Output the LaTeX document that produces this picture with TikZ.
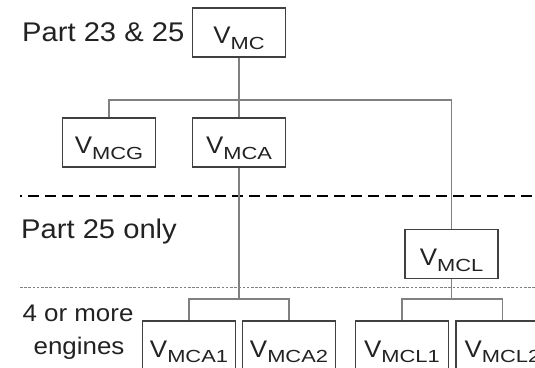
\documentclass[tikz,border=0pt]{standalone}
\usepackage{fontspec}
\setmainfont{Liberation Sans}[FakeStretch=1.08]
\newfontfamily\subfont{Liberation Sans}[FakeStretch=1.25]
\newcommand{\vname}[1]{V\raisebox{-5.5pt}{\fontsize{17.5}{17.5}\subfont #1}}
\definecolor{boxline}{HTML}{404040}
\definecolor{linkline}{HTML}{808080}
\definecolor{inktext}{HTML}{222222}
\tikzset{
  vbox/.style={draw=boxline,line width=1.4pt,minimum width=93pt,minimum height=49pt,
    inner sep=0pt,text height=23pt,text depth=0pt,font=\fontsize{24}{24}\selectfont,text=inktext},
  link/.style={draw=linkline,line width=1.3pt},
  parttext/.style={anchor=base west,inner sep=0pt,font=\fontsize{27}{27}\selectfont,text=inktext},
  enginetext/.style={anchor=base,inner sep=0pt,font=\fontsize{24}{24}\selectfont,text=inktext}
}
\begin{document}
\begin{tikzpicture}[x=1pt,y=1pt]
\useasboundingbox (0,0) rectangle (535,367);
% boxes
\node[vbox] (mc) at (239,334.5) {\vname{MC}};
\node[vbox] (mcg) at (109,224.5) {\vname{MCG}};
\node[vbox] (mca) at (239,224.5) {\vname{MCA}};
\node[vbox] (mcl) at (451.5,113) {\vname{MCL}};
\node[vbox] (mca1) at (189,21.5) {\vname{MCA1}};
\node[vbox] (mca2) at (289,21.5) {\vname{MCA2}};
\node[vbox] (mcl1) at (402,21.5) {\vname{MCL1}};
\node[vbox] (mcl2) at (502.5,21.5) {\vname{MCL2}};
% labels
\node[parttext] (p2325) at (22,325) {Part 23 \& 25};
\node[parttext] (p25) at (21,128.5) {Part 25 only};
\node[enginetext] (four) at (78,45.5) {4 or more};
\node[enginetext] (eng) at (79,13) {engines};
% separators
\coordinate (dashl) at (20,171);
\coordinate (dashr) at (535,171);
\coordinate (dotl) at (20,80);
\coordinate (dotr) at (535,80);
\draw[line width=2.6pt,dash pattern=on 11pt off 6pt,dash phase=9pt] (dashl) -- (dashr);
\draw[linkline,line width=0.9pt,dash pattern=on 2.5pt off 1.7pt] (dotl) -- (dotr);
% connectors
\draw[link] (mc.south) -- (mca.north);
\draw[link] (mcg.north) |- (239,267) -| (mcl.north);
\draw[link] (mca.south) -- (239,68);
\draw[link] (mca1.north) |- (239,68) -| (mca2.north);
\draw[link] (mcl.south) -- (451.5,68);
\draw[link] (mcl1.north) |- (451.5,68) -| (mcl2.north);
\end{tikzpicture}
\end{document}
